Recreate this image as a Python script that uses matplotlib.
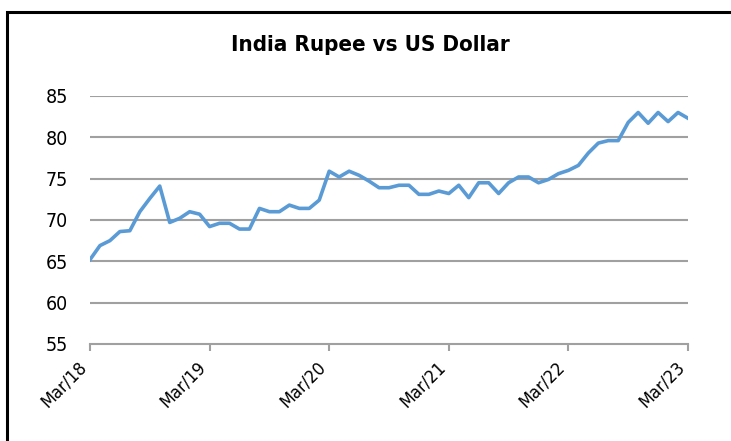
import numpy as np
import matplotlib
matplotlib.use("Agg")
import matplotlib.pyplot as plt
from matplotlib.patches import Rectangle
from matplotlib.transforms import ScaledTranslation

# Monthly INR per USD, Mar/18 .. Mar/23
rates = [
    65.2, 66.9, 67.5, 68.6, 68.7, 71.0, 72.6, 74.1, 69.7, 70.2,           # 2018 Mar-Dec
    71.0, 70.7, 69.2, 69.6, 69.6, 68.9, 68.9, 71.4, 71.0, 71.0, 71.8, 71.4,  # 2019
    71.4, 72.4, 75.9, 75.2, 75.9, 75.4, 74.7, 73.9, 73.9, 74.2, 74.2, 73.1,  # 2020
    73.1, 73.5, 73.2, 74.2, 72.7, 74.5, 74.5, 73.2, 74.5, 75.2, 75.2, 74.5,  # 2021
    74.9, 75.6, 76.0, 76.6, 78.1, 79.3, 79.6, 79.6, 81.8, 83.0, 81.7, 83.0,  # 2022
    81.9, 83.0, 82.3,                                                      # 2023 Jan-Mar
]
tick_labels = ["Mar/18", "Mar/19", "Mar/20", "Mar/21", "Mar/22", "Mar/23"]
y_ticks = [55, 60, 65, 70, 75, 80, 85]

months = np.arange(len(rates))

plt.rcParams["font.stretch"] = "condensed"

fig = plt.figure(figsize=(7.31, 4.41), dpi=100)
ax = fig.add_axes([0.1231, 0.2200, 0.8181, 0.5624])

# outer frame of the chart box
fig.patches.append(Rectangle((7 / 731, -0.1), 1.2, 1 - 12 / 441 + 0.1,
                             transform=fig.transFigure, fill=False,
                             edgecolor="black", linewidth=2.2))

for y in y_ticks[1:]:
    ax.axhline(y, color="#a0a0a0", linewidth=1.5, zorder=1)

ax.plot(months, rates, color="#5b9bd5", linewidth=2.6, zorder=3,
        solid_joinstyle="round")

ax.set_xlim(0, 60)
ax.set_ylim(55, 85)
ax.set_yticks(y_ticks)
ax.set_xticks(np.arange(0, 61, 12))
ax.set_xticklabels(tick_labels, rotation=45, ha="right")
shift = ScaledTranslation(6 / 100, 0, fig.dpi_scale_trans)
for lbl in ax.get_xticklabels():
    lbl.set_transform(lbl.get_transform() + shift)

for s in ["top", "right", "left"]:
    ax.spines[s].set_visible(False)
ax.spines["bottom"].set_color("#a0a0a0")
ax.spines["bottom"].set_linewidth(1.5)
ax.tick_params(axis="y", length=0, pad=16, labelsize=14)
ax.tick_params(axis="x", length=5, width=1.5, color="#a0a0a0",
               labelsize=13, pad=5, direction="out")

fig.text(0.506, 0.898, "India Rupee vs US Dollar", ha="center", va="center",
         fontsize=16, fontweight="bold")

fig.savefig("out.png", dpi=100)
